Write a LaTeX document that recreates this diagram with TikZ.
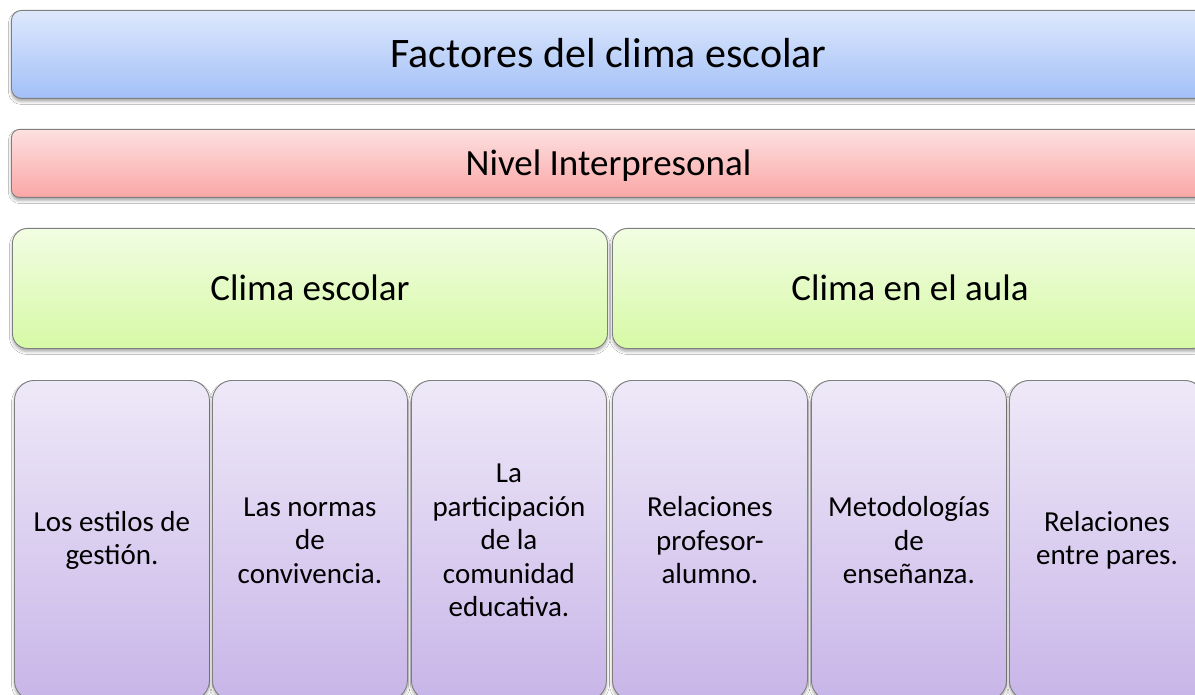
\documentclass[tikz,border=0pt]{standalone}
\usepackage{fontspec}
\setmainfont{Carlito}
\usetikzlibrary{shadows.blur}
\definecolor{bordergray}{HTML}{7F7F7F}
\definecolor{bluetop}{HTML}{DEE8FC}
\definecolor{bluebot}{HTML}{A2C0F8}
\definecolor{redtop}{HTML}{FDE0E0}
\definecolor{redbot}{HTML}{FBA6A6}
\definecolor{greentop}{HTML}{F1FDE2}
\definecolor{greenbot}{HTML}{D7F9A6}
\definecolor{purptop}{HTML}{EEE9F8}
\definecolor{purpbot}{HTML}{C8B5E8}
\tikzset{
  basebox/.style={draw=bordergray, line width=0.9pt, inner sep=0pt, anchor=north west,
    blur shadow={shadow xshift=0pt, shadow yshift=-3pt, shadow blur radius=3pt, shadow opacity=35}},
  bluebox/.style={basebox, top color=bluetop, bottom color=bluebot, rounded corners=10pt,
    minimum width=1194pt, minimum height=88pt, font=\fontsize{42}{50}\selectfont,
    text height=27pt, text depth=0pt},
  redbox/.style={basebox, top color=redtop, bottom color=redbot, rounded corners=8pt,
    minimum width=1194pt, minimum height=68pt, font=\fontsize{37}{44}\selectfont,
    text height=23.8pt, text depth=0pt},
  greenbox/.style={basebox, top color=greentop, bottom color=greenbot, rounded corners=15pt,
    minimum width=595pt, minimum height=120pt, font=\fontsize{37}{44}\selectfont,
    text height=23.8pt, text depth=0pt},
  purpbox/.style={basebox, top color=purptop, bottom color=purpbot, rounded corners=20pt,
    minimum width=195pt, minimum height=320pt, align=center,
    font=\fontsize{29}{33.5}\selectfont}
}
\begin{document}
\begin{tikzpicture}[x=1pt,y=1pt]
\useasboundingbox (0,0) rectangle (1195,-695);
\clip (0,0) rectangle (1195,-695);
\fill[white] (0,0) rectangle (1195,-695);
\node[bluebox] (title) at (11,-10) {Factores del clima escolar};
\node[redbox] (nivel) at (11,-129) {Nivel Interpresonal};
\node[greenbox] (escolar) at (12,-228) {Clima escolar};
\node[greenbox] (aula) at (612,-228) {Clima en el aula};
\node[purpbox] (p1) at (14,-380) {Los estilos de\\gestión.};
\node[purpbox] (p2) at (212,-380) {Las normas\\de\\convivencia.};
\node[purpbox] (p3) at (411,-380) {La\\participación\\de la\\comunidad\\educativa.};
\node[purpbox] (p4) at (612,-380) {Relaciones\\profesor-\\alumno.};
\node[purpbox] (p5) at (811,-380) {Metodologías\\de\\enseñanza.};
\node[purpbox] (p6) at (1009,-380) {Relaciones\\entre pares.};
\end{tikzpicture}
\end{document}
